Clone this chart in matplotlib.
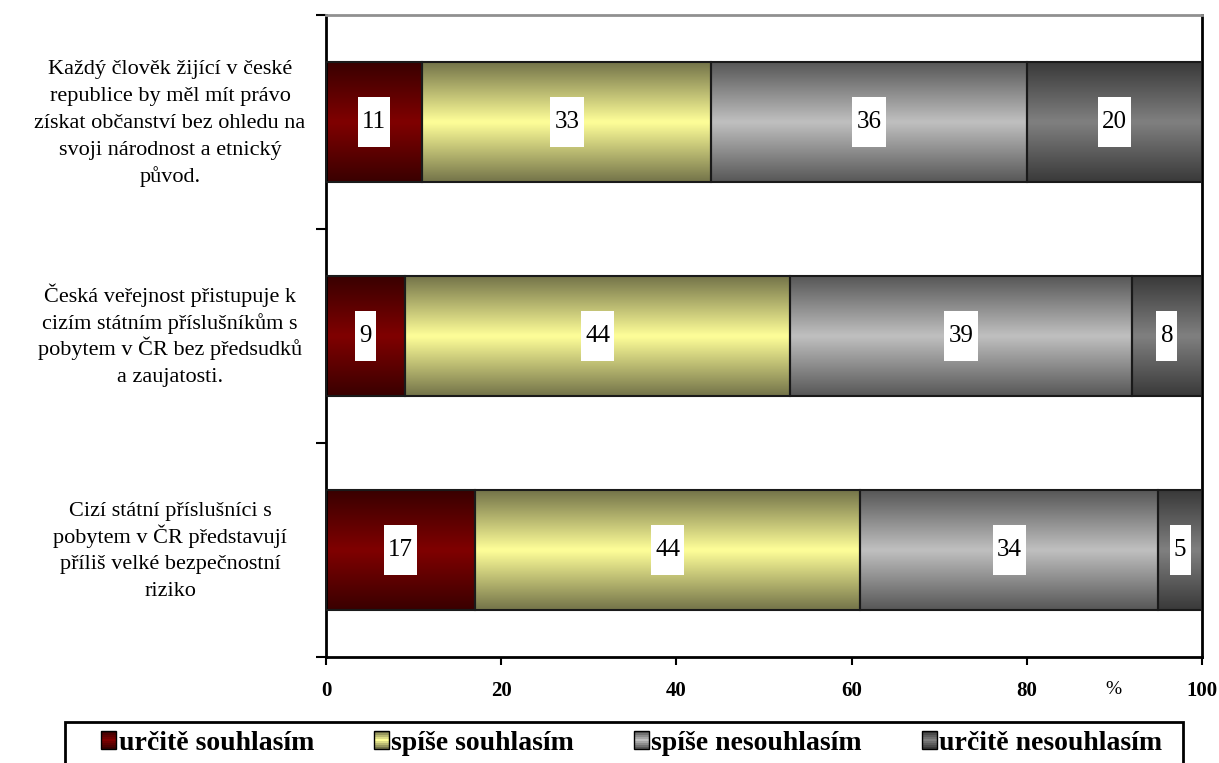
import matplotlib
matplotlib.use("Agg")
import matplotlib.pyplot as plt
import numpy as np
from matplotlib.path import Path
from matplotlib.patches import Rectangle
from matplotlib.legend_handler import HandlerBase
from matplotlib.transforms import blended_transform_factory

statements = [
    "Každý člověk žijící v české\nrepublice by měl mít právo\nzískat občanství bez ohledu na\nsvoji národnost a etnický\npůvod.",
    "Česká veřejnost přistupuje k\ncizím státním příslušníkům s\npobytem v ČR bez předsudků\na zaujatosti.",
    "Cizí státní příslušníci s\npobytem v ČR představují\npříliš velké bezpečnostní\nriziko",
]
series_names = ["určitě souhlasím", "spíše souhlasím", "spíše nesouhlasím", "určitě nesouhlasím"]
urcite_souhlasim = [11, 9, 17]
spise_souhlasim = [33, 44, 44]
spise_nesouhlasim = [36, 39, 34]
urcite_nesouhlasim = [20, 8, 5]
series_values = [urcite_souhlasim, spise_souhlasim, spise_nesouhlasim, urcite_nesouhlasim]
x_ticks = [0, 20, 40, 60, 80, 100]

# (edge colour, centre colour) for the Excel-like vertical gradient
gradients = [("#3a0000", "#800000"), ("#75754a", "#ffff99"),
             ("#585858", "#c0c0c0"), ("#3a3a3a", "#808080")]

plt.rcParams["font.family"] = ["Liberation Serif", "DejaVu Serif"]

LINE_PX = 26.8  # spacing between lines of the category labels


def label_box(x0, y0, width, height, mutation_size):
    px, py = 0.17 * mutation_size, 0.55 * mutation_size
    x0, y0 = x0 - px, y0 - py
    x1, y1 = x0 + width + 2 * px, y0 + height + 2 * py
    return Path([(x0, y0), (x1, y0), (x1, y1), (x0, y1), (x0, y0)], closed=True)


def gradient_rows(edge, mid, n=64):
    e = np.array(matplotlib.colors.to_rgb(edge))
    m = np.array(matplotlib.colors.to_rgb(mid))
    t = np.abs(np.linspace(-1, 1, n))
    return m[None, :] * (1 - t[:, None]) + e[None, :] * t[:, None]


class GradientHandler(HandlerBase):
    def create_artists(self, legend, orig_handle, xdescent, ydescent, width,
                       height, fontsize, trans):
        edge, mid = orig_handle
        rows = gradient_rows(edge, mid, n=9)
        arts = []
        h = height / len(rows)
        for i, c in enumerate(rows):
            arts.append(Rectangle((-xdescent, -ydescent + i * h), width, h,
                                  facecolor=c, edgecolor="none", transform=trans))
        arts.append(Rectangle((-xdescent, -ydescent), width, height, fill=False,
                              edgecolor="black", linewidth=1, transform=trans))
        return arts


fig = plt.figure(figsize=(12.19, 7.63), dpi=100)
ax = fig.add_axes([326 / 1219, 1 - 657 / 763, 876 / 1219, 642 / 763])

y = np.arange(len(statements))
left = np.zeros(len(statements))
for name, vals, (edge, mid) in zip(series_names, series_values, gradients):
    bars = ax.barh(y, vals, left=left, height=0.56, color="none",
                   edgecolor="#1a1a1a", linewidth=1.5, zorder=3)
    img = gradient_rows(edge, mid)[:, None, :]
    for b, v, l in zip(bars, vals, left):
        im = ax.imshow(img, extent=(l, l + v, b.get_y() + b.get_height(), b.get_y()),
                       aspect="auto", interpolation="bilinear", zorder=2)
        im.set_clip_path(b)
        ax.text(l + v / 2, b.get_y() + b.get_height() / 2, str(v), ha="center",
                va="center", fontsize=18, zorder=4,
                bbox=dict(boxstyle=label_box, facecolor="white", edgecolor="none"))
    left = left + np.array(vals)

ax.set_xlim(0, 100)
ax.set_ylim(2.5, -0.5)
ax.set_xticks(x_ticks)
ax.set_xticklabels([str(t) for t in x_ticks], fontsize=15, fontweight="bold")
ax.set_yticks([-0.5, 0.5, 1.5, 2.5])
ax.set_yticklabels([])
ax.tick_params(axis="y", direction="out", length=7, width=1.5)
ax.tick_params(axis="x", direction="out", length=6, width=1.5, pad=11)
for side in ["left", "bottom", "right"]:
    ax.spines[side].set_linewidth(2)
ax.spines["top"].set_color("#909090")
ax.spines["top"].set_linewidth(2)

# category labels line by line so that the spacing stays even
trans = blended_transform_factory(ax.transAxes, ax.transData)
for yi, s in zip(y, statements):
    lines = s.split("\n")
    for i, line in enumerate(lines):
        off_px = (i - (len(lines) - 1) / 2) * LINE_PX + 6
        ax.annotate(line, xy=(-0.178, yi), xycoords=trans,
                    xytext=(0, -off_px * 72 / 100), textcoords="offset points",
                    ha="center", va="baseline", fontsize=16,
                    annotation_clip=False)

fig.text(1113 / 1219, 1 - 690 / 763, "%", ha="center", va="center", fontsize=14)

# legend frame runs off the bottom of the figure like the original
fig.patches.append(Rectangle((65 / 1219, -0.03), 1118 / 1219, 0.03 + 1 - 722 / 763,
                             transform=fig.transFigure, fill=False,
                             edgecolor="black", linewidth=2))
fig.legend(gradients, series_names, handler_map={tuple: GradientHandler()},
           loc="center left", bbox_to_anchor=(101 / 1219, 1 - 743 / 763), ncol=4,
           frameon=False, prop={"weight": "bold", "size": 20}, handlelength=0.55,
           handleheight=0.6, handletextpad=0.08, columnspacing=2.15, borderaxespad=0,
           borderpad=0)

fig.savefig("out.png", dpi=100)
